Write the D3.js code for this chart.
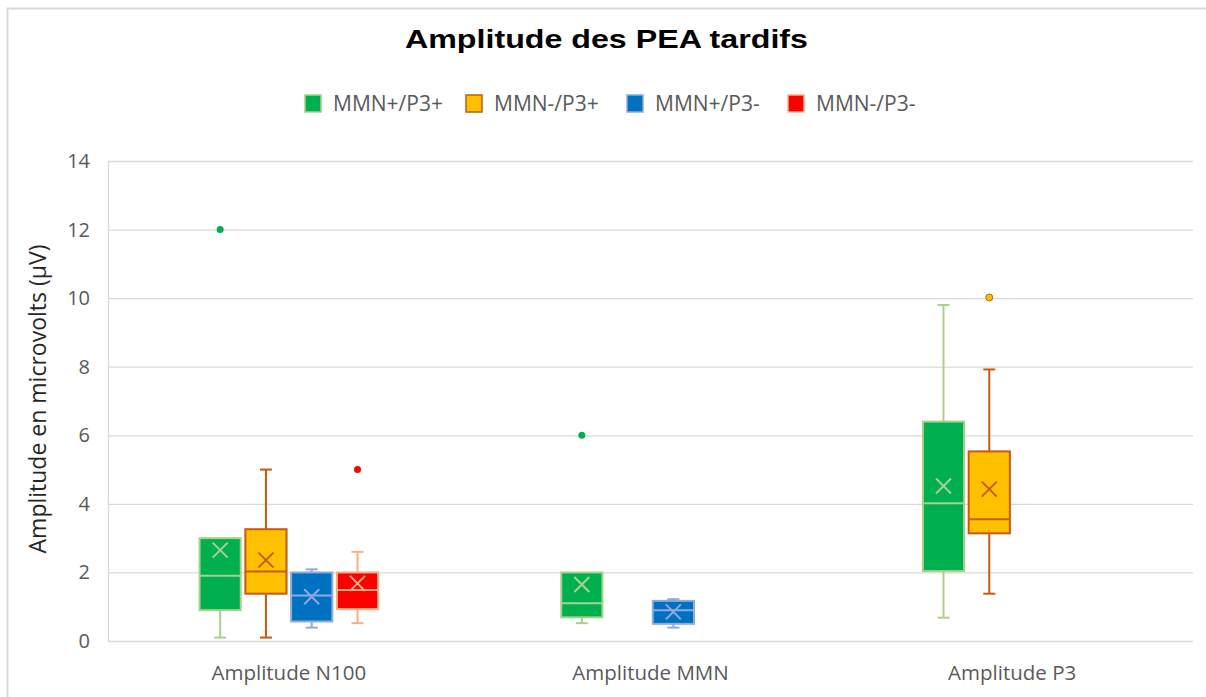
<!DOCTYPE html>
<html lang="fr">
<head>
<meta charset="UTF-8">
<title>Amplitude des PEA tardifs</title>
<script src="https://cdn.jsdelivr.net/npm/d3@7"></script>
<style>
    body { margin: 0; background: #fff; }
    svg { display: block; font-family: "Open Sans", "Liberation Sans", sans-serif; }
</style>
</head>
<body>
<svg width="1206" height="697"></svg>
<script>
    // categories, series and tick labels
    const categories = ['Amplitude N100', 'Amplitude MMN', 'Amplitude P3'];
    const seriesNames = ['MMN+/P3+', 'MMN-/P3+', 'MMN+/P3-', 'MMN-/P3-'];
    const yTicks = [0, 2, 4, 6, 8, 10, 12, 14];

    // per category: [min, q1, median, q3, max, mean], null = no data
    const statsPosPos = [[0.1, 0.9, 1.9, 3.0, 3.0, 2.65], [0.52, 0.69, 1.1, 2.0, 2.0, 1.65], [0.68, 2.04, 4.02, 6.4, 9.8, 4.52]];
    const statsNegPos = [[0.1, 1.38, 2.03, 3.26, 5.0, 2.36], null, [1.38, 3.14, 3.55, 5.53, 7.92, 4.43]];
    const statsPosNeg = [[0.39, 0.57, 1.33, 2.0, 2.09, 1.29], [0.39, 0.5, 0.9, 1.17, 1.22, 0.85], null];
    const statsNegNeg = [[0.52, 0.93, 1.49, 2.0, 2.6, 1.68], null, null];

    // outliers per category
    const outPosPos = [[12], [6], []];
    const outNegPos = [[], [], [10.02]];
    const outPosNeg = [[], [], []];
    const outNegNeg = [[5], [], []];

    const allStats = [statsPosPos, statsNegPos, statsPosNeg, statsNegNeg];
    const allOut = [outPosPos, outNegPos, outPosNeg, outNegNeg];

    const fills = ['#00B050', '#FFC000', '#0070C0', '#FF0000'];
    const lines = ['#A9D18E', '#C55A11', '#8FAADC', '#F4B183'];

    const svg = d3.select('svg');
    const plotLeft = 108, plotRight = 1193, plotTop = 161, plotBottom = 641;

    // chart border
    svg.append('rect')
        .attr('x', 7.5).attr('y', 8.5)
        .attr('width', 1220).attr('height', 720)
        .attr('fill', 'none').attr('stroke', '#D9D9D9').attr('stroke-width', 2);

    const x0 = d3.scaleBand().domain(categories).range([plotLeft, plotRight]);
    const x1 = d3.scaleBand().domain(seriesNames).range([0, x0.bandwidth()])
        .paddingInner(0.1).paddingOuter(2);
    const y = d3.scaleLinear().domain([0, 14]).range([plotBottom, plotTop]);

    // gridlines
    svg.append('g').selectAll('line')
        .data(yTicks).enter().append('line')
        .attr('x1', plotLeft).attr('x2', plotRight)
        .attr('y1', d => y(d) + 0.5).attr('y2', d => y(d) + 0.5)
        .attr('stroke', '#D9D9D9').attr('stroke-width', 1.3);

    svg.append('line')
        .attr('x1', plotLeft + 0.5).attr('x2', plotLeft + 0.5)
        .attr('y1', y(14)).attr('y2', y(0))
        .attr('stroke', '#D9D9D9').attr('stroke-width', 1.3);

    // y tick labels
    svg.append('g').selectAll('text')
        .data(yTicks).enter().append('text')
        .attr('x', 90).attr('y', d => y(d) + 7)
        .attr('text-anchor', 'end')
        .attr('font-size', 20).attr('fill', '#595959')
        .text(d => d);

    // x labels
    svg.append('g').selectAll('text')
        .data(categories).enter().append('text')
        .attr('x', d => x0(d) + x0.bandwidth() / 2)
        .attr('y', 680)
        .attr('text-anchor', 'middle')
        .attr('font-size', 20.5).attr('fill', '#595959')
        .text(d => d);

    // y axis title
    svg.append('text')
        .attr('transform', `translate(46, ${(plotTop + plotBottom) / 2 - 2}) rotate(-90)`)
        .attr('text-anchor', 'middle')
        .attr('font-size', 23).attr('fill', '#262626')
        .text('Amplitude en microvolts (µV)');

    // title
    svg.append('text')
        .attr('x', 606.5).attr('y', 48)
        .attr('text-anchor', 'middle')
        .attr('font-family', '"Liberation Sans", Arial, sans-serif')
        .attr('font-weight', 'bold').attr('font-size', 26).attr('fill', '#000')
        .attr('textLength', 403).attr('lengthAdjust', 'spacingAndGlyphs')
        .text('Amplitude des PEA tardifs');

    // boxes
    const boxes = [];
    allStats.forEach((s, si) => {
        s.forEach((st, ci) => {
            if (st) boxes.push({ si, ci, st });
        });
    });

    const g = svg.append('g');
    const bw = x1.bandwidth();
    const items = g.selectAll('g.box')
        .data(boxes).enter().append('g')
        .attr('transform', d => `translate(${x0(categories[d.ci]) + x1(seriesNames[d.si])}, 0)`);

    // whiskers
    items.append('line')
        .attr('x1', bw / 2).attr('x2', bw / 2)
        .attr('y1', d => y(d.st[0])).attr('y2', d => y(d.st[1]))
        .attr('stroke', d => lines[d.si]).attr('stroke-width', 2);
    items.append('line')
        .attr('x1', bw / 2).attr('x2', bw / 2)
        .attr('y1', d => y(d.st[3])).attr('y2', d => y(d.st[4]))
        .attr('stroke', d => lines[d.si]).attr('stroke-width', 2);
    [0, 4].forEach(k => {
        items.filter(d => d.st[k] !== d.st[k === 0 ? 1 : 3])
            .append('line')
            .attr('x1', bw / 2 - 6).attr('x2', bw / 2 + 6)
            .attr('y1', d => y(d.st[k])).attr('y2', d => y(d.st[k]))
            .attr('stroke', d => lines[d.si]).attr('stroke-width', 2);
    });

    items.append('rect')
        .attr('x', 0).attr('width', bw)
        .attr('y', d => y(d.st[3]))
        .attr('height', d => y(d.st[1]) - y(d.st[3]))
        .attr('fill', d => fills[d.si])
        .attr('stroke', d => lines[d.si]).attr('stroke-width', 2);

    items.append('line')
        .attr('x1', 0).attr('x2', bw)
        .attr('y1', d => y(d.st[2])).attr('y2', d => y(d.st[2]))
        .attr('stroke', d => lines[d.si]).attr('stroke-width', 2);

    // mean marker
    items.append('path')
        .attr('d', d => {
            const cx = bw / 2, cy = y(d.st[5]), r = 7.5;
            return `M${cx - r},${cy - r}L${cx + r},${cy + r}M${cx - r},${cy + r}L${cx + r},${cy - r}`;
        })
        .attr('stroke', d => lines[d.si]).attr('stroke-width', 2).attr('fill', 'none');

    // outliers
    items.selectAll('circle')
        .data(d => allOut[d.si][d.ci].map(v => ({ v, si: d.si })))
        .enter().append('circle')
        .attr('cx', bw / 2).attr('cy', d => y(d.v)).attr('r', 3.5)
        .attr('fill', d => fills[d.si])
        .attr('stroke', d => d.si === 1 ? lines[d.si] : 'none').attr('stroke-width', 1);

    // legend
    const legend = svg.append('g').selectAll('g')
        .data(seriesNames).enter().append('g')
        .attr('transform', (d, i) => `translate(${305 + i * 161}, 95)`);
    legend.append('rect')
        .attr('width', 16).attr('height', 17)
        .attr('fill', (d, i) => fills[i])
        .attr('stroke', (d, i) => lines[i]).attr('stroke-width', 1.5);
    legend.append('text')
        .attr('x', 28).attr('y', 16)
        .attr('font-size', 21).attr('fill', '#595959')
        .text(d => d);
</script>
</body>
</html>
